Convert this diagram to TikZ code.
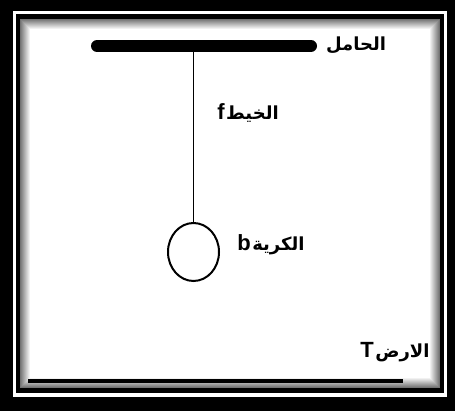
\documentclass[tikz,border=0pt]{standalone}
\usepackage{fontspec}
\usepackage{tikz}
\usetikzlibrary{shapes.geometric,positioning,calc}
\TeXXeTstate=1
\newfontfamily\arabicfont[Script=Arabic]{DejaVu Sans}
\newfontfamily\latinfont{Liberation Sans}
\newcommand{\ltrsym}[1]{{\latinfont\fontsize{22}{24}\selectfont\hspace{1.5pt}#1}}

\begin{document}
\begin{tikzpicture}[x=1pt, y=-1pt, line cap=round,
lbl/.style={inner sep=0pt, font=\fontsize{18}{20}\selectfont\bfseries\arabicfont},
bar/.style={line width=12pt, line cap=round}]
% frame
\fill[black] (0,0) rectangle (455,411);
\fill[white] (13,11) rectangle (447,397);
\fill[black] (16,14) rectangle (444,393);
\fill[white] (20,19) rectangle (440,388);
\foreach \i in {0,...,9}
  \draw[line width=1pt, black!\fpeval{55-5.5*\i}, line cap=butt] (20.5+\i,19.5+\i) rectangle (439.5-\i,387.5-\i);
\fill[white] (30,29) rectangle (430,378);
\useasboundingbox (0,0) rectangle (455,411);
% support and string
\coordinate (barL) at (97,46);
\coordinate (barR) at (311,46);
\draw[bar] (barL) -- (barR);
\node[draw, ellipse, line width=2pt, minimum width=51pt, minimum height=58pt, inner sep=0pt] (ball) at (193.5,252) {};
\draw[line width=1pt] (ball.north) -- (ball.north |- barL);
% ground
\coordinate (gndL) at (28,381);
\coordinate (gndR) at (403,381);
\draw[line width=4pt, line cap=butt] (gndL) -- (gndR);
% labels
\node[lbl] (support) at (356,45) {\beginR الحامل\endR};
\node[lbl] (thread) at (248,113) {\beginR الخيط\ltrsym{f}\endR};
\node[lbl] (ballname) at (271,245) {\beginR الكرية\ltrsym{b}\endR};
\node[lbl] (earth) at (395,352) {\beginR الارض\ltrsym{T}\endR};
\end{tikzpicture}
\end{document}
